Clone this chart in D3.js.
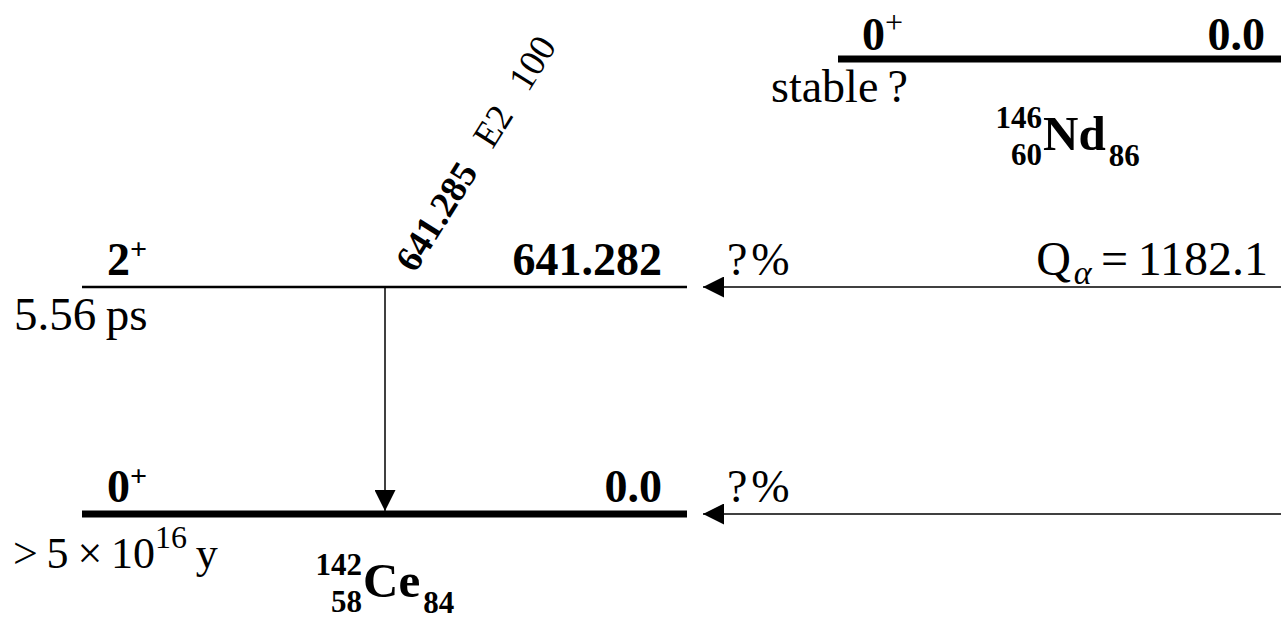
<!DOCTYPE html>
<html><head><meta charset="utf-8">
<script src="https://cdn.jsdelivr.net/npm/d3@7"></script>
<style>
html,body{margin:0;padding:0;background:#fff;}
svg{display:block;}
text{font-family:"Liberation Serif","Times New Roman",serif;fill:#000;}
</style></head><body>
<script>
// ---- data ----
const daughterLevelEnergies = [0.0, 641.282];
const daughterLevelLabels = ["0.0", "641.282"];
const daughterSpins = ["0", "2"];
const daughterParities = ["+", "+"];
const daughterHalfLives = [">5×10^16 y", "5.56 ps"];
const daughterFeeding = ["?%", "?%"];
const parentSpin = ["0", "+"];
const parentLevelLabel = "0.0";
const parentHalfLife = "stable ?";
const qAlpha = 1182.1;
const gammaFrom = [641.282];
const gammaTo = [0.0];
const gammaEnergies = ["641.285"];
const gammaMult = ["E2"];
const gammaIntensity = ["100"];
const daughterNuclide = {A: "142", Z: "58", sym: "Ce", N: "84"};
const parentNuclide = {A: "146", Z: "60", sym: "Nd", N: "86"};

const W = 1281, H = 620;
const svg = d3.select("body").append("svg").attr("width", W).attr("height", H);

// vertical scale: energy -> y (parent drawn at twice the top daughter level)
const y = d3.scaleLinear().domain([0, d3.max(daughterLevelEnergies)]).range([514, 287]);
const parentY = y(2 * d3.max(daughterLevelEnergies)) - 1;
const dX0 = 82, dX1 = 687, pX0 = 838, pX1 = W, gX = 385, arrTip = 703;

const defs = svg.append("defs");
defs.append("marker").attr("id", "ah").attr("viewBox", "0 0 10 10")
  .attr("refX", 10).attr("refY", 5).attr("markerWidth", 21).attr("markerHeight", 21)
  .attr("markerUnits", "userSpaceOnUse").attr("orient", "auto")
  .append("path").attr("d", "M0,0 L10,5 L0,10 Z").attr("fill", "#000");

const BOLD = 46, REG = 47;

// daughter levels
daughterLevelEnergies.forEach((e, i) => {
  const yy = y(e);
  const thick = e === 0;
  svg.append("line").attr("x1", dX0).attr("x2", dX1).attr("y1", yy).attr("y2", yy)
    .attr("stroke", "#000").attr("stroke-width", thick ? 7 : 2.5);
  const sp = svg.append("text").attr("x", 107).attr("y", yy - 12)
    .attr("font-size", BOLD).attr("font-weight", "bold");
  sp.append("tspan").text(daughterSpins[i]);
  sp.append("tspan").attr("dy", -16).attr("font-size", 30).text(daughterParities[i]);
  svg.append("text").attr("x", 662).attr("y", yy - 12).attr("text-anchor", "end")
    .attr("font-size", BOLD).attr("font-weight", "bold").text(daughterLevelLabels[i]);
  svg.append("text").attr("x", 727).attr("y", yy - 12).attr("font-size", 46)
    .text(daughterFeeding[i].replace("?", "?\u200A"));
  svg.append("line").attr("x1", pX1).attr("x2", arrTip).attr("y1", yy).attr("y2", yy)
    .attr("stroke", "#000").attr("stroke-width", 1.5).attr("marker-end", "url(#ah)");
});

// half lives
{
  svg.append("text").attr("x", 14).attr("y", y(641.282) + 43).attr("font-size", REG)
    .text(daughterHalfLives[1].replace(" ", "\u2009"));
  const parts = daughterHalfLives[0].match(/^>(\d)×(\d+)\^(\d+) (\w)$/);
  const t = svg.append("text").attr("x", 13).attr("y", y(0) + 54).attr("font-size", 44);
  t.append("tspan").text(">\u2009" + parts[1] + "\u2009×\u2009" + parts[2]);
  t.append("tspan").attr("dy", -20).attr("font-size", 32).text(parts[3]);
  t.append("tspan").attr("dy", 20).text("\u2009" + parts[4]);
}

// gamma transition
gammaFrom.forEach((ef, i) => {
  svg.append("line").attr("x1", gX).attr("x2", gX).attr("y1", y(ef)).attr("y2", y(gammaTo[i]) - 3)
    .attr("stroke", "#000").attr("stroke-width", 1.5).attr("marker-end", "url(#ah)");
  const g = svg.append("g").attr("transform", `translate(${gX + 30},${y(ef) - 13}) rotate(-58)`);
  const t = g.append("text").attr("font-size", 37);
  t.append("tspan").attr("font-weight", "bold").text(gammaEnergies[i]);
  t.append("tspan").text("\u2002\u2009" + gammaMult[i] + "\u2002\u2009" + gammaIntensity[i]);
});

// Q alpha
{
  const q = svg.append("text").attr("x", 1268).attr("y", y(641.282) - 12).attr("text-anchor", "end").attr("font-size", 48);
  q.append("tspan").text("Q");
  q.append("tspan").attr("dy", 9).attr("font-size", 34).attr("font-style", "italic").text("\u200Aα");
  q.append("tspan").attr("dy", -9).text("\u2009=\u2009" + qAlpha.toFixed(1));
}

// parent level
svg.append("line").attr("x1", pX0).attr("x2", pX1).attr("y1", parentY).attr("y2", parentY)
  .attr("stroke", "#000").attr("stroke-width", 7);
{
  const sp = svg.append("text").attr("x", 862).attr("y", parentY - 9).attr("font-size", BOLD).attr("font-weight", "bold");
  sp.append("tspan").text(parentSpin[0]);
  sp.append("tspan").attr("dy", -17).attr("font-size", 32).attr("font-weight", "normal").text(parentSpin[1]);
  svg.append("text").attr("x", 1265).attr("y", parentY - 9).attr("text-anchor", "end")
    .attr("font-size", BOLD).attr("font-weight", "bold").text(parentLevelLabel);
  svg.append("text").attr("x", 771).attr("y", parentY + 43).attr("font-size", 46)
    .text(parentHalfLife.replace(" ", "\u2009"));
}

// nuclide labels
function nuclide(n, xx, yy) {
  const g = svg.append("g").attr("font-weight", "bold");
  g.append("text").attr("x", xx - 1).attr("y", yy - 22).attr("font-size", 31).attr("text-anchor", "end").text(n.A);
  g.append("text").attr("x", xx - 1).attr("y", yy + 15).attr("font-size", 31).attr("text-anchor", "end").text(n.Z);
  const b = g.append("text").attr("x", xx).attr("y", yy).attr("font-size", 49).text(n.sym);
  const bw = b.node().getComputedTextLength();
  g.append("text").attr("x", xx + 3 + bw).attr("y", yy + 16).attr("font-size", 31).text(n.N);
}
nuclide(daughterNuclide, 363, 597);
nuclide(parentNuclide, 1043, 150);
</script>
</body></html>
